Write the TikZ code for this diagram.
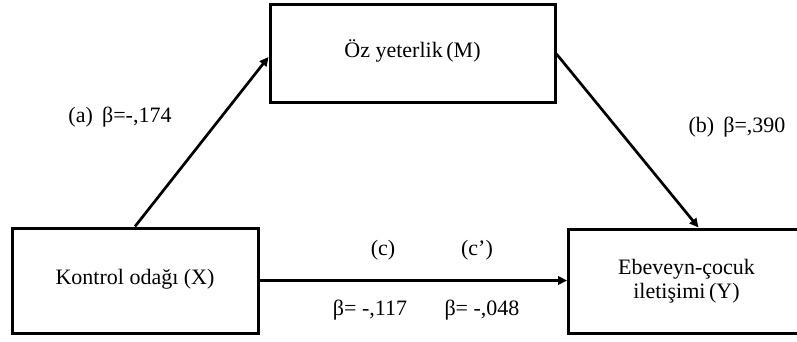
\documentclass[tikz,border=0pt]{standalone}
\usepackage{fontspec}
\setmainfont{Liberation Serif}
\usetikzlibrary{arrows.meta}
\begin{document}
\begin{tikzpicture}[x=1pt,y=-1pt,
  boxst/.style={draw,line width=3pt,rectangle,inner sep=0pt,align=center,font=\fontsize{22}{26}\selectfont},
  lbl/.style={inner sep=0pt,font=\fontsize{22}{26}\selectfont},
  arr/.style={line width=2.7pt,-{Triangle[length=9pt,width=8.5pt]}}]
\useasboundingbox (0,0) rectangle (797,342);
\begin{scope}
\clip (0,0) rectangle (797,342);
\node[boxst,minimum width=285pt,minimum height=98pt] (M) at (412.5,54) {\raisebox{11pt}{Öz yeterlik\,(M)}};
\node[boxst,minimum width=246pt,minimum height=105pt] (X) at (135,280.5) {\raisebox{8pt}{Kontrol odağı (X)}};
\node[boxst,minimum width=236pt,minimum height=104pt,anchor=west] (Y) at (567,281) {\raisebox{8pt}{\begin{tabular}{c}Ebeveyn-çocuk\\[-2pt] iletişimi\,(Y)\end{tabular}}};
\end{scope}
\coordinate (Mw) at (M.west |- 0,57);
\coordinate (Yn) at ([xshift=12pt]Y.north);
\draw[arr] (X.north) -- (Mw);
\draw[arr] (M.east) -- (Yn);
\draw[arr] (X.east) -- (Y.west |- X.east);
\node[lbl] (la) at (120,117) {(a)\, β=-,174};
\node[lbl] (lb) at (737,127) {(b)\, β=,390};
\node[lbl] (lc) at (383,250) {(c)};
\node[lbl] (lcp) at (477,250) {(c’)};
\node[lbl] (lc1) at (370,310) {β= -,117};
\node[lbl] (lc2) at (482,310) {β= -,048};
\end{tikzpicture}
\end{document}
